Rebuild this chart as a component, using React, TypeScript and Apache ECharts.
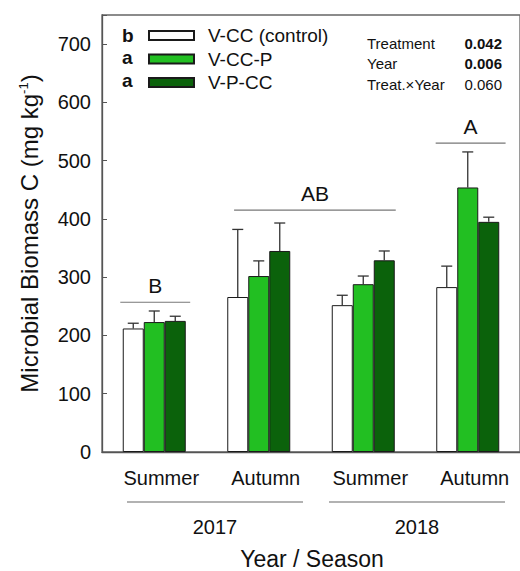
import React, { useEffect, useRef } from "react";
import * as echarts from "echarts";

const categories = ["Summer", "Autumn", "Summer", "Autumn"];
const seriesNames = ["V-CC (control)", "V-CC-P", "V-P-CC"];
const controlMean = [212, 266, 252, 283];
const ccpMean = [223, 302, 288, 454];
const pccMean = [225, 345, 329, 395];
const controlUpper = [221, 382, 269, 319];
const ccpUpper = [242, 328, 302, 515];
const pccUpper = [233, 393, 345, 403];
const legendLetters = ["b", "a", "a"];
const bracketLabels = ["B", "AB", "A"];
const bracketStart = [-0.325, 0.764, 2.693];
const bracketEnd = [0.344, 2.311, 3.362];
const bracketLevel = [257, 415, 530];
const statNames = ["Treatment", "Year", "Treat.\u00d7Year"];
const statValues = ["0.042", "0.006", "0.060"];
const statBold = [true, true, false];
const yearLabels = ["2017", "2018"];
const yTicks = [0, 100, 200, 300, 400, 500, 600, 700];

const FONT = "'Liberation Sans', Arial, Helvetica, sans-serif";
const colors = ["#ffffff", "#22bf22", "#0b620b"];
const means = [controlMean, ccpMean, pccMean];
const uppers = [controlUpper, ccpUpper, pccUpper];

export default function App() {
  const ref = useRef<HTMLDivElement>(null);
  useEffect(() => {
    if (!ref.current) return;
    const chart = echarts.init(ref.current, undefined, { renderer: "svg" });

    const barWidth = 21;
    const barSeries = seriesNames.map((name, i) => ({
      name,
      type: "bar",
      data: means[i],
      barWidth,
      barGap: "0%",
      itemStyle: { color: colors[i], borderColor: "#1a1a1a", borderWidth: 1 },
      z: 2,
    }));

    const errSeries = seriesNames.map((name, i) => ({
      name: name + " err",
      type: "custom",
      z: 1,
      data: categories.map((_, c) => [c, means[i][c], uppers[i][c]]),
      renderItem: (params: any, api: any) => {
        const c = api.value(0);
        const lo = api.coord([c, api.value(1)]);
        const hi = api.coord([c, api.value(2)]);
        const x = lo[0] + (i - 1) * barWidth;
        const cap = 5.5;
        return {
          type: "group",
          children: [
            { type: "line", shape: { x1: x, y1: lo[1], x2: x, y2: hi[1] }, style: { stroke: "#333", lineWidth: 1.3 } },
            { type: "line", shape: { x1: x - cap, y1: hi[1], x2: x + cap, y2: hi[1] }, style: { stroke: "#333", lineWidth: 1.3 } },
          ],
        };
      },
    }));

    const bracketSeries = {
      type: "custom",
      name: "brackets",
      z: 3,
      data: bracketLabels.map((l, k) => [bracketStart[k], bracketEnd[k], bracketLevel[k], k]),
      renderItem: (params: any, api: any) => {
        const k = api.value(3);
        const base = api.coord([0, api.value(2)]);
        const band = api.size([1, 0])[0];
        const x1 = base[0] + api.value(0) * band;
        const x2 = base[0] + api.value(1) * band;
        const y = base[1];
        return {
          type: "group",
          children: [
            { type: "line", shape: { x1, y1: y, x2, y2: y }, style: { stroke: "#777", lineWidth: 1.2 } },
            {
              type: "text",
              x: (x1 + x2) / 2,
              y: y - 17,
              style: { text: bracketLabels[k], font: `21px ${FONT}`, fill: "#111", align: "center", verticalAlign: "middle" },
            },
          ],
        };
      },
    };

    const graphics: any[] = [];
    legendLetters.forEach((l, i) => {
      graphics.push({
        type: "text",
        x: 122,
        y: 35 + i * 22.5,
        style: { text: l, font: `bold 19px ${FONT}`, fill: "#111", verticalAlign: "middle" },
      });
    });
    statNames.forEach((s, i) => {
      graphics.push({
        type: "text",
        x: 367,
        y: 43 + i * 20.5,
        style: { text: s, font: `15px ${FONT}`, fill: "#111", verticalAlign: "middle" },
      });
      graphics.push({
        type: "text",
        x: 502,
        y: 43 + i * 20.5,
        style: {
          text: statValues[i],
          font: `${statBold[i] ? "bold " : ""}15px ${FONT}`,
          fill: "#111",
          align: "right",
          verticalAlign: "middle",
        },
      });
    });
    const yearLineX = [[127, 303], [329, 505]];
    yearLabels.forEach((yl, i) => {
      graphics.push({
        type: "line",
        shape: { x1: yearLineX[i][0], y1: 502, x2: yearLineX[i][1], y2: 502 },
        style: { stroke: "#666", lineWidth: 1.2 },
      });
      graphics.push({
        type: "text",
        x: (yearLineX[i][0] + yearLineX[i][1]) / 2,
        y: 527,
        style: { text: yl, font: `20px ${FONT}`, fill: "#111", align: "center", verticalAlign: "middle" },
      });
    });
    graphics.push({
      type: "text",
      x: 312,
      y: 559,
      style: { text: "Year / Season", font: `23px ${FONT}`, fill: "#111", align: "center", verticalAlign: "middle" },
    });

    chart.setOption({
      animation: false,
      backgroundColor: "#ffffff",
      textStyle: { fontFamily: FONT },
      grid: {
        left: 102,
        top: 15,
        width: 419,
        height: 437,
        show: true,
        borderColor: "#666",
        borderWidth: 1.3,
        backgroundColor: "transparent",
      },
      legend: {
        data: seriesNames,
        orient: "vertical",
        left: 148,
        top: 26,
        padding: 0,
        itemWidth: 45,
        itemHeight: 9,
        itemGap: 4.5,
        icon: "rect",
        textStyle: { fontSize: 19, color: "#111", fontFamily: FONT, padding: [0, 0, 0, 9] },
        selectedMode: false,
      },
      xAxis: {
        type: "category",
        data: categories,
        axisLine: { show: true, lineStyle: { color: "#555", width: 1.3 } },
        axisTick: { show: false },
        axisLabel: { fontSize: 20, color: "#111", margin: 16, padding: [0, 0, 0, 14] },
      },
      yAxis: {
        type: "value",
        min: 0,
        max: 750,
        interval: 100,
        splitLine: { show: false },
        axisLine: { show: true, lineStyle: { color: "#555", width: 1.3 } },
        axisTick: { show: true, inside: true, length: 5, lineStyle: { color: "#555" } },
        axisLabel: {
          fontSize: 20,
          color: "#111",
          margin: 11,
          formatter: (v: number) => (yTicks.includes(v) ? String(v) : ""),
        },
        name: "Microbial Biomass C (mg kg{sup|-1})",
        nameLocation: "middle",
        nameGap: 60,
        nameTextStyle: {
          fontSize: 24,
          color: "#111",
          rich: { sup: { fontSize: 13, padding: [0, 0, 12, 0], color: "#111" } },
        },
      },
      series: [...barSeries, ...errSeries, bracketSeries],
      graphic: graphics,
    });
    return () => chart.dispose();
  }, []);
  return (
    <div
      ref={ref}
      style={{ position: "fixed", left: 0, top: 0, width: 520, height: 571, background: "#fff" }}
    />
  );
}
